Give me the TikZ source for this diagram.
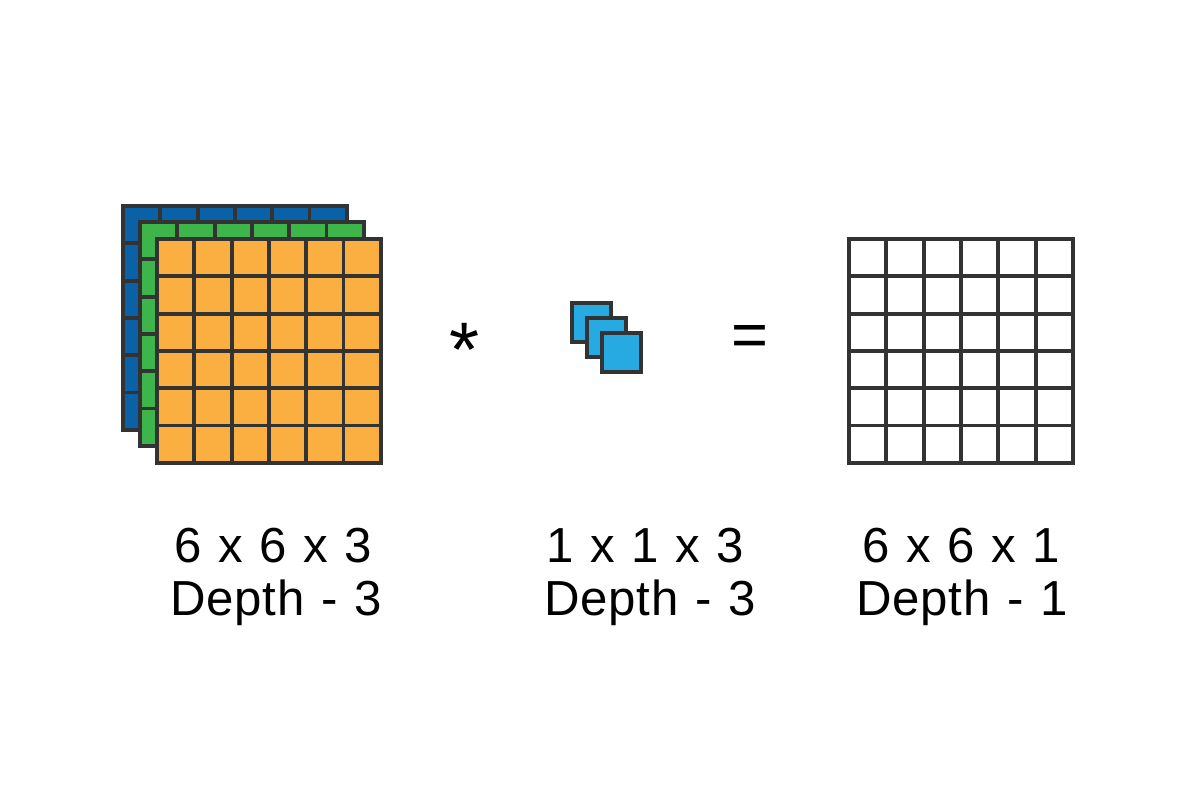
\documentclass[tikz,border=0pt]{standalone}
\usepackage{fontspec}
\setmainfont{Liberation Sans}
\newfontfamily\capfont{Liberation Sans}[WordSpace=1.15, LetterSpace=1.5]
\usepackage{tikz}
\usetikzlibrary{positioning}
\definecolor{chanblue}{HTML}{0B61A6}
\definecolor{changreen}{HTML}{3DB54A}
\definecolor{chanorange}{HTML}{FBAF40}
\definecolor{kernblue}{HTML}{27A9E1}
\definecolor{gridline}{HTML}{333333}
\tikzset{layer/.style={draw=gridline, line width=2.1pt}}
\tikzset{caption/.style={anchor=base, font=\capfont\fontsize{28}{32}\selectfont}}

\begin{document}
\begin{tikzpicture}[x=0.02cm, y=-0.02cm]
  \useasboundingbox (0,0) rectangle (1200,800);

  % input volume, three channels
  \foreach \ox/\oy/\col in {123/206/chanblue, 140/222/changreen, 157/239/chanorange} {
    \draw[layer, fill=\col] (\ox,\oy) rectangle ++(224,224);
    \foreach \k in {1,...,5} {
      \draw[layer] (\ox+\k*37.33,\oy) -- ++(0,224);
      \draw[layer] (\ox,\oy+\k*37.33) -- ++(224,0);
    }
  }

  % 1x1 kernel
  \foreach \ox/\oy in {572/303, 587/318, 602/333}
    \draw[layer, fill=kernblue] (\ox,\oy) rectangle ++(39,39);

  % output map
  \draw[layer, fill=white] (849,239) rectangle ++(224,224);
  \foreach \k in {1,...,5} {
    \draw[layer] (849+\k*37.33,239) -- ++(0,224);
    \draw[layer] (849,239+\k*37.33) -- ++(224,0);
  }

  \node[anchor=base, font=\fontsize{44}{44}\selectfont] (star) at (465,377) {*};
  \node[anchor=base, font=\fontsize{36}{36}\selectfont] (equals) at (750,357) {=};

  \node[caption] (indim) at (273,562) {6 x 6 x 3};
  \node[caption] (indepth) at (276,615) {Depth - 3};
  \node[caption] (kdim) at (645,562) {1 x 1 x 3};
  \node[caption] (kdepth) at (650,615) {Depth - 3};
  \node[caption] (outdim) at (961,562) {6 x 6 x 1};
  \node[caption] (outdepth) at (962,615) {Depth - 1};
\end{tikzpicture}
\end{document}
